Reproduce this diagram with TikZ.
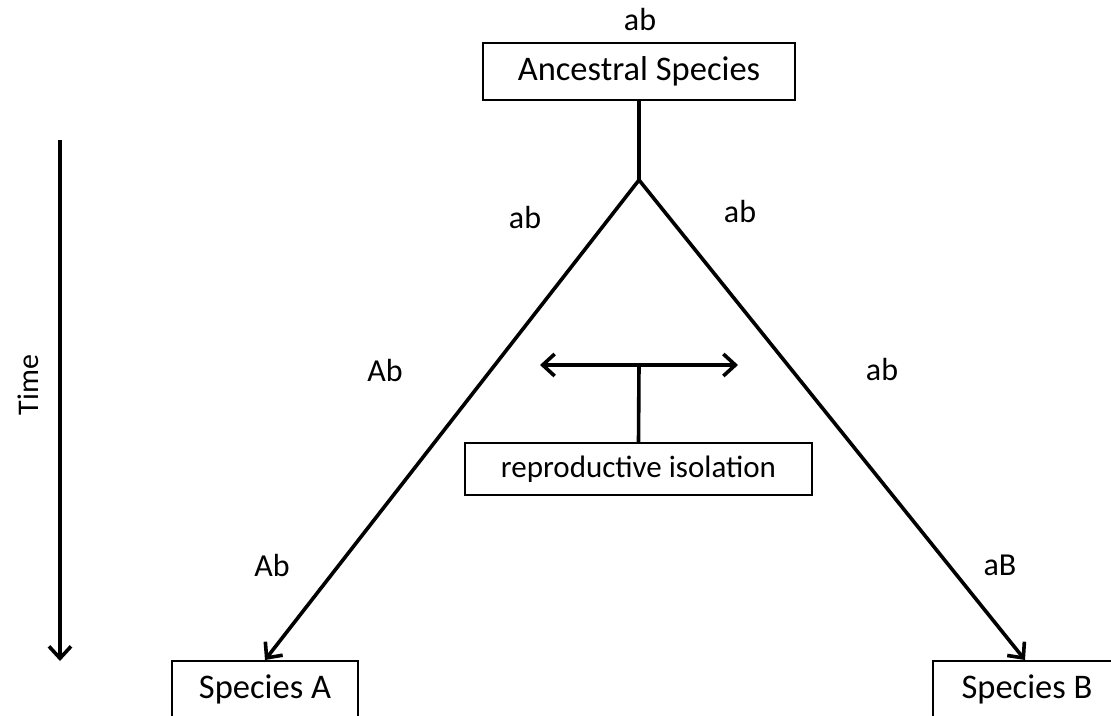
\documentclass[tikz,border=0pt]{standalone}
\usepackage{fontspec}
\setmainfont{Carlito}
\usetikzlibrary{arrows.meta}
\begin{document}
\begin{tikzpicture}[x=1pt,y=-1pt,
  >={Straight Barb[length=12pt,width=22pt,line width=3.6pt]},
  box/.style={draw,line width=1.5pt,minimum width=#1,inner sep=0pt,font=\fontsize{34.5}{38}\selectfont},
  lbl/.style={inner sep=0pt,font=\fontsize{32}{35}\selectfont},
  conn/.style={line width=3.6pt},
  arr/.style={conn,->}]
\useasboundingbox (0,0) rectangle (1111,715);
\clip (0,0) rectangle (1111,715);
\fill[white] (0,0) rectangle (1111,715);
% boxes
\node[box=312pt,minimum height=57pt] (anc) at (639,71.5) {Ancestral Species};
\node[box=186pt,minimum height=57pt] (spA) at (265,689.5) {Species A};
\node[box=188pt,minimum height=57pt] (spB) at (1027,689.5) {Species B};
\node[box=347pt,minimum height=52pt,font=\fontsize{31}{34}\selectfont] (iso) at (638.5,469) {reproductive isolation};
% junction
\coordinate (j) at (639,180);
\coordinate (tA) at (265,660);
\coordinate (tB) at (1025,660);
\draw[conn] (anc.south) -- (j);
\draw[arr,line join=miter] (j) -- (tA);
\draw[arr] (j) -- (tB);
% isolation arrows
\coordinate (dl) at (540,365);
\coordinate (dr) at (738,365);
\coordinate (dm) at (639,365);
\draw[conn,<->] (dl) -- (dr);
\draw[conn] (iso.north) -- (dm);
% time
\coordinate (t0) at (60,140);
\coordinate (t1) at (60,661);
\draw[arr] (t0) -- (t1);
\node[lbl,rotate=90,font=\fontsize{30}{33}\selectfont] (time) at (28,385) {Time};
% labels
\node[lbl] (l0) at (640,20) {ab};
\node[lbl] (l1) at (525,218) {ab};
\node[lbl] (l2) at (740,212) {ab};
\node[lbl] (l3) at (385,370) {Ab};
\node[lbl] (l4) at (882,370) {ab};
\node[lbl] (l5) at (272,565) {Ab};
\node[lbl] (l6) at (1000,565) {aB};
\end{tikzpicture}
\end{document}
